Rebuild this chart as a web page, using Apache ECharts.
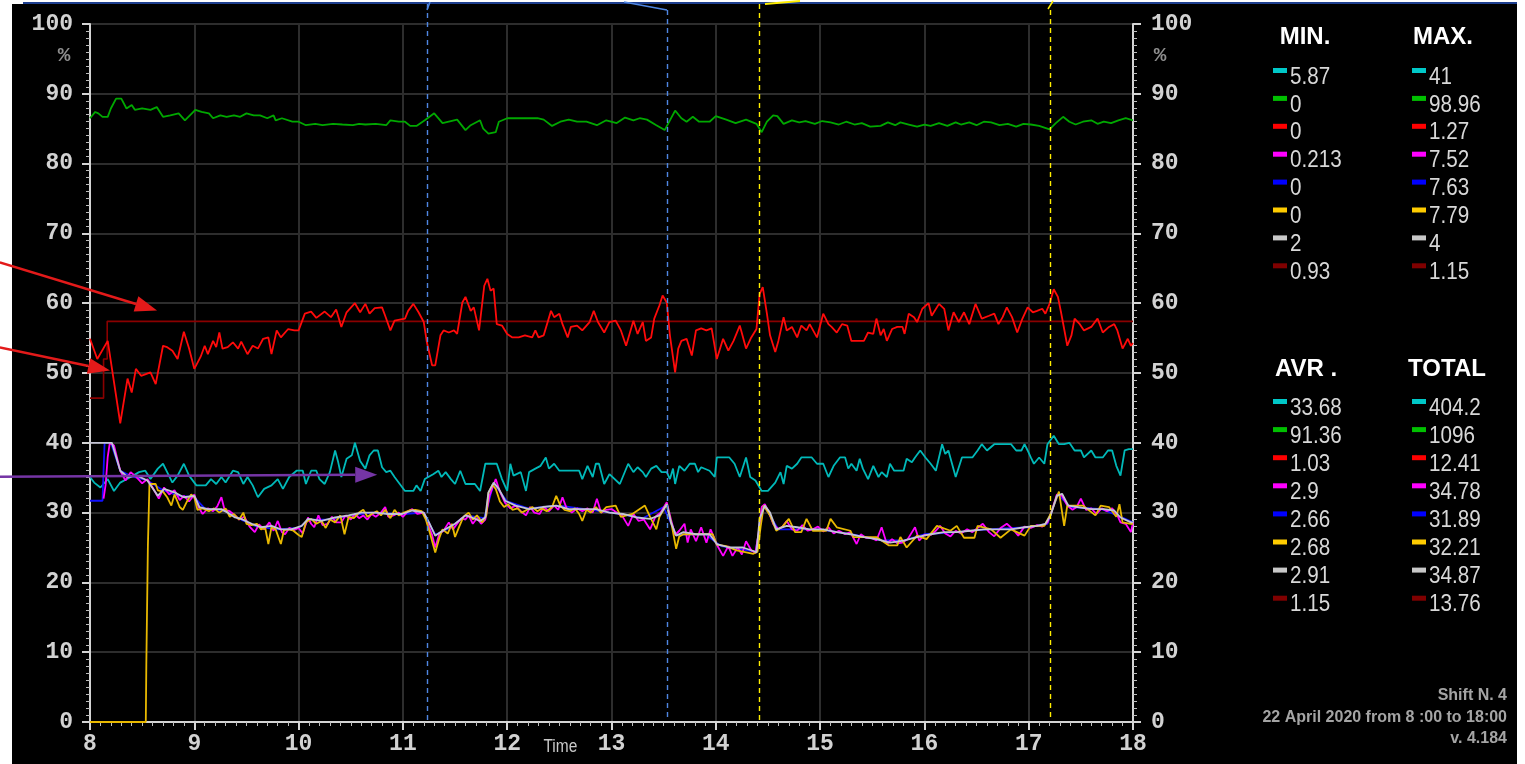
<!DOCTYPE html>
<html><head><meta charset="utf-8">
<script src="https://cdn.jsdelivr.net/npm/echarts@6/dist/echarts.min.js"></script>
<style>
html,body{margin:0;padding:0;background:#fff;width:1525px;height:764px;overflow:hidden}
#frame{position:absolute;left:12px;top:4px;width:1505px;height:760px;background:#000}
#topline{position:absolute;left:23px;top:2px;width:1494px;height:2px;background:#1e3f8f}
#chart{position:absolute;left:0;top:0;width:1525px;height:764px}
</style></head><body>
<div id="frame"></div><div id="topline"></div><div id="chart"></div>
<script>
// ---------- DATA (hour, %) ----------
const xTicks = [8,9,10,11,12,13,14,15,16,17,18];
const yTicks = [0,10,20,30,40,50,60,70,80,90,100];

const seriesNames  = ['cyan','green','red','magenta','blue','yellow','gray','darkred'];
const legendColors = ['#00c8c8','#00c000','#ff0000','#ff00ff','#0000ff','#ffcc00','#c8c8c8','#800000'];
const minVals   = ['5.87','0','0','0.213','0','0','2','0.93'];
const maxVals   = ['41','98.96','1.27','7.52','7.63','7.79','4','1.15'];
const avrVals   = ['33.68','91.36','1.03','2.9','2.66','2.68','2.91','1.15'];
const totalVals = ['404.2','1096','12.41','34.78','31.89','32.21','34.87','13.76'];

const cyanData = [[8.00,35.1],[8.04,34.3],[8.10,33.6],[8.17,34.8],[8.23,33.1],[8.29,34.3],[8.39,35.1],[8.47,35.8],[8.53,36.0],[8.58,34.8],[8.65,36.3],[8.70,37.0],[8.74,35.8],[8.79,34.3],[8.84,35.3],[8.90,37.0],[8.95,35.3],[9.02,33.9],[9.11,33.9],[9.16,34.8],[9.21,34.1],[9.26,35.1],[9.30,34.3],[9.37,36.0],[9.42,35.8],[9.47,34.1],[9.51,35.1],[9.56,33.9],[9.61,32.2],[9.67,33.4],[9.74,33.9],[9.80,34.8],[9.85,33.4],[9.91,35.1],[9.98,36.0],[10.04,36.0],[10.07,34.1],[10.12,36.0],[10.17,36.0],[10.20,34.8],[10.25,34.1],[10.30,35.8],[10.35,38.9],[10.38,37.2],[10.41,35.1],[10.46,37.7],[10.51,38.2],[10.54,40.0],[10.59,37.4],[10.64,36.3],[10.68,38.2],[10.72,38.9],[10.76,38.9],[10.80,36.5],[10.84,35.8],[10.88,36.0],[10.92,35.1],[10.97,34.1],[11.02,33.1],[11.10,33.1],[11.13,33.9],[11.17,33.1],[11.21,34.8],[11.29,35.5],[11.34,36.0],[11.37,35.1],[11.41,35.8],[11.46,34.8],[11.50,34.1],[11.55,36.0],[11.60,34.1],[11.69,34.1],[11.74,33.1],[11.79,37.0],[11.90,37.0],[11.95,34.8],[12.00,33.1],[12.03,37.0],[12.06,35.3],[12.13,35.8],[12.18,33.1],[12.21,35.8],[12.27,36.3],[12.32,36.7],[12.37,37.9],[12.40,36.3],[12.45,37.0],[12.50,36.0],[12.59,36.0],[12.69,36.0],[12.72,34.8],[12.77,36.7],[12.82,35.1],[12.85,37.0],[12.88,37.0],[12.93,34.1],[12.98,35.5],[13.08,34.1],[13.16,37.0],[13.21,35.8],[13.25,36.5],[13.30,35.8],[13.33,35.1],[13.38,36.3],[13.43,36.7],[13.48,35.8],[13.53,35.8],[13.56,34.8],[13.59,36.3],[13.61,34.1],[13.65,36.7],[13.70,36.0],[13.75,37.0],[13.80,37.0],[13.83,35.8],[13.86,36.5],[13.94,36.0],[13.99,35.1],[14.01,37.9],[14.13,37.9],[14.18,37.0],[14.23,35.1],[14.29,37.9],[14.33,35.1],[14.38,34.6],[14.44,33.1],[14.50,33.1],[14.57,34.3],[14.62,35.8],[14.65,34.1],[14.68,36.7],[14.73,36.3],[14.78,37.0],[14.82,37.9],[14.92,37.9],[14.97,37.0],[15.03,37.0],[15.08,35.1],[15.13,36.7],[15.19,37.9],[15.24,37.9],[15.27,36.3],[15.30,37.0],[15.35,36.0],[15.38,37.7],[15.41,36.3],[15.46,34.8],[15.51,36.7],[15.56,35.1],[15.59,35.8],[15.64,35.1],[15.67,37.0],[15.71,36.0],[15.80,36.0],[15.83,37.7],[15.88,37.2],[15.91,37.9],[15.96,38.9],[16.01,37.9],[16.06,37.0],[16.11,36.0],[16.17,39.8],[16.20,38.4],[16.23,38.9],[16.30,35.1],[16.36,37.9],[16.46,37.9],[16.51,38.9],[16.55,39.8],[16.60,38.9],[16.67,39.8],[16.83,39.8],[16.88,38.9],[16.93,38.9],[16.96,39.8],[16.99,38.9],[17.02,37.9],[17.05,37.0],[17.10,37.9],[17.15,37.0],[17.18,39.8],[17.24,41.0],[17.29,39.8],[17.34,39.8],[17.39,40.0],[17.44,38.9],[17.50,38.9],[17.53,37.9],[17.60,38.9],[17.64,37.9],[17.71,37.9],[17.76,38.9],[17.80,38.9],[17.84,36.7],[17.88,35.3],[17.92,38.9],[17.96,39.1],[18.00,39.1]];

const greenData = [[8.00,86.5],[8.05,87.4],[8.08,87.2],[8.12,86.7],[8.17,86.7],[8.20,87.9],[8.25,89.3],[8.30,89.3],[8.35,87.9],[8.40,88.4],[8.43,87.7],[8.50,87.9],[8.58,87.7],[8.64,88.1],[8.70,86.7],[8.77,86.9],[8.85,87.2],[8.91,86.2],[9.01,87.7],[9.07,87.4],[9.14,87.2],[9.18,86.5],[9.25,86.9],[9.31,86.7],[9.38,86.9],[9.44,86.7],[9.50,87.2],[9.57,86.9],[9.63,86.9],[9.70,86.5],[9.76,86.9],[9.78,86.2],[9.84,86.5],[9.94,86.0],[10.00,86.0],[10.07,85.5],[10.16,85.7],[10.23,85.5],[10.33,85.7],[10.42,85.6],[10.52,85.5],[10.58,85.7],[10.64,85.6],[10.74,85.7],[10.84,85.5],[10.88,86.2],[10.96,86.0],[11.02,86.0],[11.07,85.4],[11.13,85.4],[11.21,86.2],[11.30,87.2],[11.38,85.8],[11.52,86.3],[11.60,84.8],[11.65,85.5],[11.74,86.2],[11.77,85.0],[11.82,84.3],[11.89,84.5],[11.92,86.0],[12.00,86.5],[12.29,86.5],[12.35,86.3],[12.43,85.4],[12.51,86.0],[12.59,86.3],[12.67,86.0],[12.76,86.0],[12.86,85.5],[12.95,86.2],[13.05,85.8],[13.13,86.6],[13.21,86.2],[13.27,86.5],[13.34,86.3],[13.43,85.5],[13.51,84.8],[13.56,86.2],[13.61,87.6],[13.67,86.5],[13.72,86.0],[13.78,86.7],[13.84,86.0],[13.94,86.0],[14.00,86.8],[14.10,86.3],[14.19,85.8],[14.29,86.3],[14.39,85.7],[14.44,84.5],[14.49,86.0],[14.55,86.9],[14.59,86.8],[14.65,85.7],[14.73,86.2],[14.80,85.9],[14.86,86.1],[14.95,85.7],[15.02,86.1],[15.10,85.9],[15.18,85.6],[15.25,86.0],[15.33,85.6],[15.40,85.8],[15.48,85.3],[15.58,85.4],[15.65,85.9],[15.72,85.5],[15.77,85.9],[15.85,85.6],[15.93,85.3],[16.00,85.6],[16.06,85.4],[16.14,85.8],[16.22,85.4],[16.30,85.9],[16.35,85.6],[16.43,85.9],[16.50,85.5],[16.57,86.0],[16.64,85.9],[16.72,85.5],[16.80,85.7],[16.88,85.3],[16.95,85.7],[17.02,85.6],[17.10,85.4],[17.20,84.9],[17.26,85.8],[17.33,86.7],[17.39,86.0],[17.45,85.6],[17.52,86.0],[17.60,86.2],[17.66,85.7],[17.72,86.0],[17.79,85.8],[17.86,86.2],[17.93,86.5],[18.00,86.2]];

const redData = [[8.00,54.9],[8.07,52.0],[8.17,54.6],[8.29,42.8],[8.36,49.2],[8.40,47.2],[8.44,50.6],[8.49,49.6],[8.58,50.1],[8.63,48.4],[8.70,53.9],[8.74,53.7],[8.79,53.2],[8.84,52.0],[8.90,55.9],[8.95,53.5],[9.00,50.6],[9.06,52.3],[9.10,53.9],[9.13,52.7],[9.18,54.6],[9.21,53.7],[9.24,55.8],[9.27,53.5],[9.32,53.7],[9.37,54.4],[9.42,53.5],[9.45,54.5],[9.51,52.7],[9.56,53.9],[9.61,53.5],[9.66,54.9],[9.71,55.1],[9.74,52.7],[9.79,56.1],[9.83,55.1],[9.90,56.3],[9.96,56.1],[10.00,56.1],[10.06,58.5],[10.12,58.8],[10.17,57.9],[10.25,58.8],[10.31,58.0],[10.36,59.1],[10.41,56.6],[10.46,58.7],[10.54,60.0],[10.59,58.7],[10.64,59.9],[10.68,58.5],[10.73,59.3],[10.80,59.4],[10.83,58.2],[10.88,56.1],[10.92,57.5],[11.02,57.8],[11.05,58.9],[11.10,59.9],[11.15,58.7],[11.20,57.3],[11.23,54.4],[11.28,51.1],[11.31,51.1],[11.36,55.4],[11.39,56.1],[11.44,55.8],[11.49,56.1],[11.52,55.6],[11.57,60.1],[11.60,60.9],[11.65,58.9],[11.68,59.4],[11.73,56.1],[11.78,62.5],[11.81,63.5],[11.84,61.8],[11.87,62.1],[11.90,57.0],[11.95,56.8],[12.00,55.6],[12.05,55.1],[12.11,55.1],[12.17,55.4],[12.24,55.1],[12.27,56.1],[12.30,55.1],[12.35,55.4],[12.42,58.9],[12.45,58.0],[12.50,58.5],[12.53,57.0],[12.58,55.1],[12.61,56.6],[12.67,56.8],[12.72,56.1],[12.79,57.3],[12.83,58.9],[12.87,57.3],[12.93,55.8],[12.98,57.3],[13.04,57.5],[13.09,56.1],[13.14,53.9],[13.21,57.5],[13.25,55.6],[13.30,57.3],[13.33,54.6],[13.38,55.1],[13.41,57.8],[13.46,59.7],[13.49,61.1],[13.53,60.1],[13.56,55.4],[13.61,50.1],[13.64,53.5],[13.67,54.6],[13.72,54.9],[13.77,52.5],[13.81,56.1],[13.86,56.4],[13.91,56.1],[13.96,56.4],[14.01,52.0],[14.07,54.9],[14.12,53.2],[14.17,54.6],[14.23,56.8],[14.29,53.5],[14.34,55.1],[14.39,56.3],[14.42,61.3],[14.45,62.3],[14.49,58.5],[14.52,55.4],[14.57,53.0],[14.60,54.6],[14.65,58.0],[14.68,56.1],[14.73,56.6],[14.78,55.1],[14.82,56.8],[14.87,56.1],[14.90,57.0],[14.97,55.1],[15.03,58.5],[15.08,57.0],[15.11,56.6],[15.16,55.8],[15.21,57.0],[15.26,56.8],[15.30,54.6],[15.42,54.6],[15.46,55.8],[15.51,55.6],[15.54,57.8],[15.58,55.4],[15.61,56.3],[15.64,54.6],[15.69,56.3],[15.74,56.6],[15.79,56.6],[15.81,55.6],[15.85,58.5],[15.90,58.0],[15.93,57.3],[15.98,59.2],[16.04,60.0],[16.07,58.2],[16.14,59.9],[16.19,59.2],[16.23,56.1],[16.28,58.7],[16.33,57.3],[16.38,58.7],[16.43,57.0],[16.49,59.9],[16.55,57.8],[16.62,58.2],[16.67,58.5],[16.71,57.0],[16.75,58.0],[16.79,59.4],[16.84,58.0],[16.89,55.8],[16.94,57.8],[16.99,59.4],[17.04,58.7],[17.08,58.9],[17.13,59.2],[17.16,58.5],[17.20,59.9],[17.24,62.0],[17.28,60.9],[17.31,58.7],[17.34,56.3],[17.37,53.9],[17.41,55.4],[17.44,57.8],[17.49,57.0],[17.53,56.1],[17.60,56.6],[17.66,57.8],[17.71,55.8],[17.77,56.6],[17.82,57.0],[17.85,56.1],[17.90,53.5],[17.95,54.9],[17.98,53.9],[18.00,54.3]];

const magentaData = [[8.13,32.0],[8.15,34.0],[8.17,38.0],[8.19,40.0],[8.23,39.6],[8.29,36.0],[8.34,34.6],[8.39,35.8],[8.45,35.0],[8.50,34.2],[8.55,34.8],[8.60,33.6],[8.66,32.0],[8.71,33.6],[8.76,32.6],[8.81,33.2],[8.86,31.8],[8.90,32.4],[8.95,31.6],[9.00,32.6],[9.04,30.8],[9.08,29.8],[9.13,30.6],[9.18,30.2],[9.22,30.9],[9.26,32.2],[9.29,30.4],[9.34,30.2],[9.39,29.6],[9.43,29.0],[9.48,29.4],[9.53,28.0],[9.58,27.2],[9.62,28.3],[9.67,27.6],[9.72,28.6],[9.76,27.4],[9.80,28.8],[9.84,27.2],[9.87,26.9],[9.91,27.8],[9.96,27.5],[10.00,27.8],[10.04,27.0],[10.09,29.3],[10.12,28.4],[10.15,27.9],[10.19,29.6],[10.23,28.2],[10.28,28.4],[10.32,29.4],[10.36,28.6],[10.41,28.6],[10.45,29.6],[10.50,29.0],[10.54,29.8],[10.58,29.2],[10.62,29.6],[10.66,29.0],[10.70,29.8],[10.74,29.4],[10.79,30.0],[10.83,30.8],[10.86,29.4],[10.91,29.6],[10.96,30.0],[11.00,29.4],[11.05,30.2],[11.09,30.5],[11.14,29.8],[11.20,30.0],[11.24,28.4],[11.28,26.8],[11.31,25.0],[11.35,27.0],[11.39,27.4],[11.44,28.6],[11.48,27.6],[11.52,28.4],[11.56,29.2],[11.60,29.0],[11.63,29.6],[11.67,28.4],[11.71,29.2],[11.75,28.4],[11.79,29.0],[11.83,32.4],[11.86,33.6],[11.89,34.8],[11.93,33.0],[11.98,31.4],[12.03,30.6],[12.08,31.0],[12.13,30.2],[12.18,29.6],[12.22,30.8],[12.26,30.0],[12.31,29.8],[12.35,30.8],[12.40,30.2],[12.45,31.0],[12.49,30.4],[12.53,32.2],[12.57,30.6],[12.62,30.0],[12.67,30.6],[12.72,30.2],[12.77,30.6],[12.82,30.0],[12.86,32.0],[12.90,30.0],[12.95,30.4],[13.00,30.5],[13.05,30.0],[13.10,29.6],[13.16,28.1],[13.21,29.8],[13.26,28.8],[13.31,29.0],[13.37,27.6],[13.42,29.4],[13.47,30.0],[13.53,31.5],[13.57,29.0],[13.61,26.8],[13.65,27.4],[13.70,28.4],[13.73,25.7],[13.76,27.6],[13.81,25.9],[13.86,27.9],[13.91,25.7],[13.95,27.6],[14.01,25.4],[14.07,23.8],[14.12,25.2],[14.16,23.8],[14.21,25.0],[14.25,24.0],[14.29,25.9],[14.34,24.6],[14.38,24.2],[14.41,27.0],[14.44,30.8],[14.47,31.2],[14.51,30.0],[14.55,28.4],[14.60,27.6],[14.64,28.0],[14.68,28.8],[14.73,27.6],[14.78,27.4],[14.83,28.2],[14.88,27.4],[14.93,27.6],[14.98,28.0],[15.03,27.3],[15.08,27.9],[15.13,27.0],[15.18,27.4],[15.24,26.9],[15.29,27.2],[15.35,25.5],[15.39,26.9],[15.44,26.4],[15.49,26.4],[15.54,26.0],[15.59,27.9],[15.64,25.5],[15.69,26.2],[15.74,25.6],[15.79,25.7],[15.84,26.2],[15.91,27.9],[15.95,26.0],[16.00,26.8],[16.06,26.8],[16.11,27.4],[16.15,28.1],[16.20,27.0],[16.25,26.6],[16.30,27.4],[16.35,27.0],[16.41,27.6],[16.46,27.2],[16.51,27.8],[16.56,28.4],[16.62,27.2],[16.67,26.6],[16.73,27.8],[16.79,28.4],[16.85,27.6],[16.90,26.7],[16.96,28.0],[17.02,27.8],[17.08,28.2],[17.13,28.0],[17.18,28.6],[17.22,30.2],[17.27,32.6],[17.32,32.4],[17.37,31.0],[17.42,30.4],[17.46,30.8],[17.50,32.0],[17.55,30.4],[17.60,30.6],[17.65,29.8],[17.70,30.6],[17.75,30.2],[17.80,30.6],[17.85,29.6],[17.88,28.6],[17.93,28.4],[17.98,27.2],[18.00,28.6]];

const blueData = [[8.00,31.7],[8.12,31.7],[8.13,36.0],[8.14,40.0],[8.20,40.0],[8.29,36.0],[8.40,35.2],[8.55,34.6],[8.70,33.2],[8.85,32.4],[9.00,32.2],[9.10,30.6],[9.30,30.2],[9.45,29.0],[9.60,28.0],[9.80,27.6],[10.00,27.8],[10.10,29.0],[10.30,29.0],[10.50,29.6],[10.70,30.0],[11.00,29.8],[11.20,30.0],[11.31,26.8],[11.45,27.8],[11.60,29.6],[11.78,29.2],[11.87,34.2],[12.00,31.6],[12.20,30.6],[12.50,31.0],[12.80,30.4],[13.00,30.0],[13.30,29.2],[13.50,30.8],[13.62,26.8],[13.90,26.9],[14.05,25.2],[14.38,24.4],[14.46,31.0],[14.60,27.6],[15.00,27.6],[15.30,26.9],[15.60,26.0],[15.80,26.0],[16.00,26.9],[16.30,27.2],[16.60,27.6],[17.00,27.9],[17.18,28.4],[17.28,32.6],[17.40,30.8],[17.70,30.5],[17.85,29.6],[18.00,28.6]];

const yellowData = [[8.00,0],[8.535,0],[8.54,8.2],[8.55,8.2],[8.555,25.2],[8.565,25.4],[8.57,34.1],[8.63,34.1],[8.65,33.2],[8.70,33.0],[8.74,32.2],[8.78,31.0],[8.81,32.6],[8.86,30.8],[8.89,30.4],[8.93,31.6],[8.97,32.6],[9.00,32.2],[9.03,30.4],[9.08,30.6],[9.14,30.2],[9.19,30.6],[9.24,30.0],[9.30,30.6],[9.34,29.4],[9.38,29.8],[9.43,29.0],[9.47,30.0],[9.50,28.4],[9.55,28.2],[9.60,28.4],[9.64,27.6],[9.68,27.8],[9.71,25.5],[9.74,27.9],[9.78,27.6],[9.83,25.5],[9.86,27.5],[9.91,27.6],[9.95,27.4],[10.00,26.8],[10.03,26.5],[10.07,28.6],[10.12,29.1],[10.17,28.4],[10.22,28.8],[10.26,27.8],[10.30,29.0],[10.35,28.6],[10.40,29.6],[10.44,26.9],[10.48,29.4],[10.53,29.2],[10.58,30.0],[10.62,30.4],[10.66,29.4],[10.70,29.8],[10.75,30.2],[10.79,29.6],[10.83,30.4],[10.88,29.2],[10.92,30.4],[10.96,29.6],[11.01,30.0],[11.06,30.3],[11.12,30.4],[11.18,30.2],[11.22,29.0],[11.26,27.0],[11.31,24.3],[11.35,26.4],[11.38,27.6],[11.43,27.0],[11.47,28.4],[11.50,26.5],[11.54,28.0],[11.58,29.4],[11.63,30.0],[11.67,29.0],[11.71,29.6],[11.76,28.6],[11.80,29.6],[11.82,32.8],[11.86,34.0],[11.89,33.4],[11.93,31.6],[11.97,30.8],[12.01,31.2],[12.05,30.4],[12.10,30.6],[12.14,30.0],[12.19,30.4],[12.24,30.8],[12.29,30.2],[12.33,30.6],[12.38,30.2],[12.43,30.8],[12.47,32.4],[12.51,31.0],[12.55,30.4],[12.60,30.2],[12.65,30.6],[12.69,29.8],[12.72,28.8],[12.76,30.4],[12.80,30.0],[12.85,30.8],[12.90,30.0],[12.95,30.8],[13.04,31.0],[13.09,29.4],[13.20,29.8],[13.32,31.0],[13.37,29.4],[13.43,27.6],[13.46,29.4],[13.53,31.2],[13.58,28.0],[13.62,24.8],[13.65,26.6],[13.69,26.9],[13.97,26.9],[14.01,25.4],[14.10,25.2],[14.20,24.6],[14.36,24.1],[14.40,24.4],[14.43,28.0],[14.46,31.0],[14.52,29.6],[14.58,27.4],[14.64,28.0],[14.70,29.1],[14.76,27.2],[14.82,27.2],[14.87,29.1],[14.93,27.4],[15.06,27.4],[15.10,29.1],[15.16,27.9],[15.29,27.4],[15.32,26.5],[15.54,26.5],[15.66,25.3],[15.74,25.3],[15.77,26.5],[15.83,25.0],[15.93,26.7],[16.02,26.2],[16.12,28.1],[16.25,27.4],[16.31,28.1],[16.38,26.4],[16.48,26.4],[16.51,28.1],[16.64,27.6],[16.73,26.4],[16.83,27.6],[16.96,26.7],[17.02,28.1],[17.15,28.1],[17.21,29.8],[17.29,33.0],[17.34,28.1],[17.37,31.0],[17.52,31.0],[17.64,29.6],[17.69,31.0],[17.77,30.8],[17.84,29.4],[17.87,31.2],[17.90,28.6],[17.98,28.4],[18.00,28.4]];

const grayData = [[8.00,40.0],[8.21,40.0],[8.29,36.0],[8.36,35.1],[8.45,35.3],[8.55,34.6],[8.65,32.4],[8.71,33.4],[8.81,32.9],[8.90,32.2],[9.00,32.4],[9.05,30.8],[9.13,30.5],[9.26,30.5],[9.32,30.0],[9.39,29.3],[9.45,29.1],[9.55,28.4],[9.64,27.9],[9.74,28.1],[9.83,27.6],[9.93,27.6],[10.03,28.1],[10.09,29.1],[10.22,28.8],[10.35,29.3],[10.48,29.6],[10.60,30.0],[10.73,30.0],[10.86,29.8],[10.99,29.8],[11.09,30.3],[11.20,30.0],[11.25,28.6],[11.31,26.7],[11.38,27.4],[11.44,27.9],[11.50,28.4],[11.60,29.6],[11.66,29.3],[11.74,28.8],[11.79,29.3],[11.82,32.9],[11.87,34.3],[11.92,33.4],[11.98,31.7],[12.08,31.0],[12.21,30.5],[12.34,30.8],[12.47,31.0],[12.59,30.5],[12.72,30.5],[12.85,30.5],[12.98,30.0],[13.11,29.8],[13.24,29.3],[13.37,29.1],[13.46,29.6],[13.53,31.2],[13.57,28.6],[13.62,26.7],[13.69,27.2],[13.81,26.9],[13.94,26.9],[14.01,25.5],[14.13,25.0],[14.26,25.0],[14.36,24.5],[14.39,24.3],[14.42,29.1],[14.47,31.0],[14.52,30.0],[14.58,27.6],[14.68,28.1],[14.78,27.9],[14.90,27.6],[15.03,27.6],[15.16,27.2],[15.29,26.9],[15.42,26.5],[15.54,26.2],[15.67,25.7],[15.80,26.0],[15.93,26.5],[16.06,26.9],[16.19,27.2],[16.31,27.2],[16.44,27.4],[16.57,27.6],[16.70,27.6],[16.83,27.6],[16.96,27.9],[17.08,28.1],[17.16,28.4],[17.21,29.6],[17.27,32.4],[17.32,32.7],[17.38,31.0],[17.47,30.8],[17.60,30.5],[17.72,30.5],[17.82,30.3],[17.88,29.3],[17.98,28.6],[18.00,28.6]];

const darkredData = [[8.00,46.4],[8.13,46.4],[8.13,52.0],[8.165,52.0],[8.165,57.4],[18.00,57.4]];

// vertical dashed markers (hours)
const markerHours  = [11.235, 13.53, 14.41, 17.20];
const markerColors = ['#4f86e2','#4f86e2','#ffee00','#ffee00'];

// annotation arrows (data coords: hour, %)
const arrows = [
  {from:[7.136,65.85], to:[8.643,58.97], color:'#e31a1a'},
  {from:[7.136,53.66], to:[8.192,50.36], color:'#e31a1a'},
  {from:[7.136,35.15], to:[10.754,35.44], color:'#7535a5'}
];

const footLines = ['Shift N. 4','22 April 2020 from 8 :00 to 18:00','v. 4.184'];

// ---------- CHART ----------
const lineColors = {cyan:'#00b9b9',green:'#00a800',red:'#ff0a0a',magenta:'#ff00ff',blue:'#1010ff',yellow:'#e8b800',gray:'#c4c4d4',darkred:'#8a0000'};
const dataMap = {cyan:cyanData,green:greenData,red:redData,magenta:magentaData,blue:blueData,yellow:yellowData,gray:grayData,darkred:darkredData};
const drawOrder = ['darkred','green','red','cyan','blue','magenta','yellow','gray'];

const monoFont = '"Liberation Mono","DejaVu Sans Mono",monospace';
const sansFont = '"Liberation Sans",Arial,sans-serif';

const chart = echarts.init(document.getElementById('chart'));
const axisLabelStyle = {color:'#d2d2d2', fontFamily:monoFont, fontWeight:'bold', fontSize:23};

const yAxisBase = {
  type:'value', min:0, max:100, interval:10,
  axisLine:{show:true, lineStyle:{color:'#d4d4d4', width:2}},
  axisTick:{show:true, length:8, lineStyle:{color:'#d4d4d4', width:2}},
  minorTick:{show:true, splitNumber:10, length:4, lineStyle:{color:'#bdbdbd', width:1}}
};

chart.setOption({
  backgroundColor:'transparent',
  animation:false,
  grid:{left:90, right:392, top:24, bottom:42, containLabel:false},
  xAxis:{
    type:'value', min:xTicks[0], max:xTicks[xTicks.length-1], interval:1,
    axisLine:{lineStyle:{color:'#d4d4d4', width:2}},
    axisTick:{length:8, lineStyle:{color:'#d4d4d4', width:2}},
    minorTick:{show:true, splitNumber:10, length:4, lineStyle:{color:'#bdbdbd', width:1}},
    axisLabel:Object.assign({margin:11}, axisLabelStyle),
    splitLine:{show:true, lineStyle:{color:'#2d2d2d', width:2}}
  },
  yAxis:[
    Object.assign({}, yAxisBase, {position:'left',
      axisLabel:Object.assign({margin:17}, axisLabelStyle),
      splitLine:{show:true, lineStyle:{color:'#2d2d2d', width:2}}}),
    Object.assign({}, yAxisBase, {position:'right',
      axisLabel:Object.assign({margin:18}, axisLabelStyle),
      splitLine:{show:false}})
  ],
  series: drawOrder.map(n => ({
    name:n, type:'line', data:dataMap[n], showSymbol:false, symbol:'none',
    lineStyle:{color:lineColors[n], width:(n==='darkred'?1.6:1.8)},
    z: 2, silent:true
  }))
});

// ---------- GRAPHIC OVERLAYS ----------
function px(p){ return chart.convertToPixel({gridIndex:0}, p); }
const g = [];
const yBottom = px([8,0])[1];

// top fragments of cropped annotations
g.push({type:'polyline', shape:{points:[[427,10],[430,2]]}, style:{stroke:'#4f86e2', lineWidth:1.5}});
g.push({type:'polyline', shape:{points:[[624,2],[667,10]]}, style:{stroke:'#4f86e2', lineWidth:1.5}});
g.push({type:'polyline', shape:{points:[[765,4],[800,1]]}, style:{stroke:'#ffee00', lineWidth:2}});
g.push({type:'polyline', shape:{points:[[1048,9],[1053,1]]}, style:{stroke:'#ffee00', lineWidth:1.5}});

markerHours.forEach((h,i) => {
  const x = Math.round(px([h,0])[0]) + 0.5;
  g.push({type:'line', shape:{x1:x, y1:(i===1||i===3)?10:4, x2:x, y2:yBottom-1},
    style:{stroke:markerColors[i], lineWidth:1.4, lineDash:[5,4]}, z:10});
});

arrows.forEach(a => {
  const p0 = px(a.from), p1 = px(a.to);
  const dx = p1[0]-p0[0], dy = p1[1]-p0[1], L = Math.hypot(dx,dy);
  const ux = dx/L, uy = dy/L, hl = 22, hw = 8;
  const bx = p1[0]-ux*hl, by = p1[1]-uy*hl;
  g.push({type:'line', shape:{x1:p0[0], y1:p0[1], x2:bx, y2:by}, style:{stroke:a.color, lineWidth:2.5}, z:20});
  g.push({type:'polygon', shape:{points:[[p1[0],p1[1]],[bx-uy*hw, by+ux*hw],[bx+uy*hw, by-ux*hw]]}, style:{fill:a.color}, z:20});
});

// % unit labels
const pctL = px([8,95.5]), pctR = px([18,95.5]);
g.push({type:'text', x:pctL[0]-26, y:pctL[1], style:{text:'%', fill:'#8e8e8e', font:'bold 21px '+monoFont, textAlign:'center', textVerticalAlign:'middle'}});
g.push({type:'text', x:pctR[0]+27, y:pctR[1], style:{text:'%', fill:'#8e8e8e', font:'bold 21px '+monoFont, textAlign:'center', textVerticalAlign:'middle'}});

// "Time" axis caption
const tPos = px([12.51,0]);
g.push({type:'text', x:tPos[0], y:tPos[1]+25, scaleX:0.86, style:{text:'Time', fill:'#c8c8c8', font:'18px '+sansFont, textAlign:'center', textVerticalAlign:'middle'}});

// legend panel
const legendCols = [
  {title:'MIN.',  vals:minVals,   titleX:1305, titleY:37,  swX:1273, txX:1290, y0:76,  step:27.9},
  {title:'MAX.',  vals:maxVals,   titleX:1443, titleY:37,  swX:1412, txX:1429, y0:76,  step:27.9},
  {title:'AVR .', vals:avrVals,   titleX:1306, titleY:369, swX:1273, txX:1290, y0:407, step:28.1},
  {title:'TOTAL', vals:totalVals, titleX:1447, titleY:369, swX:1412, txX:1429, y0:407, step:28.1}
];
legendCols.forEach(c => {
  g.push({type:'text', x:c.titleX, y:c.titleY, style:{text:c.title, fill:'#ffffff', font:'bold 24px '+sansFont, textAlign:'center', textVerticalAlign:'middle'}});
  c.vals.forEach((v,i) => {
    const y = c.y0 + i*c.step;
    g.push({type:'rect', shape:{x:c.swX, y:y-8, width:14, height:5}, style:{fill:legendColors[i]}});
    g.push({type:'text', x:c.txX, y:y+1, scaleX:0.86, style:{text:v, fill:'#d8d8d8', font:'24px '+sansFont, textAlign:'left', textVerticalAlign:'middle'}});
  });
});

// footer
footLines.forEach((t,i) => {
  g.push({type:'text', x:1507, y:696+i*21.5, style:{text:t, fill:'#a4a4a4', font:'bold 16px '+sansFont, textAlign:'right', textVerticalAlign:'middle'}});
});

chart.setOption({graphic:{elements:g}});
</script>
</body></html>
